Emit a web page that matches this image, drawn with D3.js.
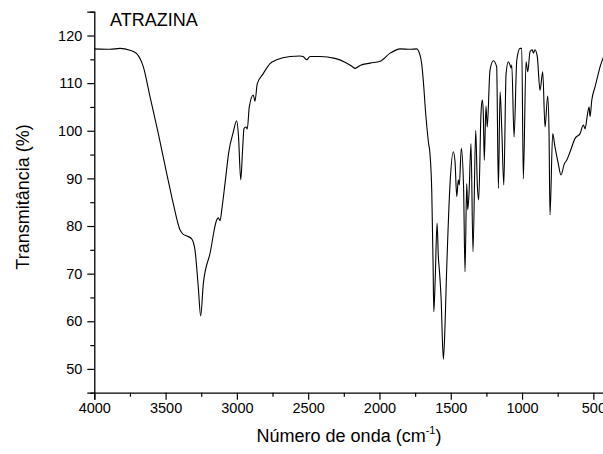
<!DOCTYPE html>
<html>
<head>
<meta charset="utf-8">
<script src="https://cdn.jsdelivr.net/npm/d3@7"></script>
<style>
  html, body { margin: 0; padding: 0; background: #fff; }
  svg { display: block; font-family: "Liberation Sans", Arial, sans-serif; }
</style>
</head>
<body>
<svg id="chart" width="603" height="454"></svg>
<script>
// Wavenumber (cm-1) and transmittance (%)
const wavenumber = [4000,3890,3820,3750,3703,3656,3609,3551,3492,3446,3399,3378,3350,3317,3294,3271,3254,3235,3188,3141,3130,3118,3106,3083,3055,3027,3001,2989,2973,2960,2950,2936,2927,2913,2885,2873,2857,2815,2768,2721,2627,2557,2536,2510,2487,2417,2312,2242,2192,2171,2136,2065,1995,1925,1855,1785,1739,1716,1704,1692,1675,1657,1645,1633,1624,1619,1610,1596,1587,1580,1568,1552,1544,1528,1505,1482,1470,1458,1447,1440,1426,1410,1400,1388,1381,1372,1358,1344,1325,1314,1304,1288,1279,1272,1265,1253,1244,1225,1201,1178,1166,1154,1142,1128,1112,1096,1084,1077,1072,1056,1037,1014,1002,991,972,960,944,928,921,909,893,874,855,839,820,811,804,785,769,746,727,703,687,663,628,593,570,558,542,530,523,511,488,465,453,434,400];
const transmittance = [117.2,117.1,117.3,116.9,116.2,113.4,107.1,99.4,91.0,84.7,79.2,78.3,77.9,77.3,75.0,67.3,61.1,68.0,74.3,81.3,81.7,81.1,83.4,89.0,95.9,99.5,102.1,99.0,89.7,96.0,100.5,100.8,100.4,105.0,107.5,106.2,109.9,112.0,114.1,114.9,115.6,115.7,115.6,114.9,115.6,115.6,115.2,114.4,113.5,113.1,113.7,114.2,114.6,116.3,117.2,117.1,117.2,115.9,114.1,110.3,103.3,97.7,94.9,87.0,72.0,62.0,68.0,80.6,73.5,70.8,65.0,52.0,56.0,71.5,88.9,95.6,93.5,86.2,89.7,88.6,96.3,88.0,70.4,88.9,83.4,86.8,97.3,74.6,100.1,88.9,85.5,103.6,106.5,104.0,93.8,105.2,100.8,112.7,114.7,113.4,87.9,108.2,100.1,88.6,112.0,114.5,113.8,113.2,113.8,98.7,114.8,117.3,117.3,89.9,114.5,112.4,116.6,117.0,116.3,117.0,115.5,108.5,112.4,100.8,107.3,100.0,82.3,99.4,96.6,93.1,90.7,93.1,93.8,95.6,98.4,99.4,101.2,100.4,103.3,105.0,103.0,106.4,109.2,112.0,113.4,115.1,116.5];

const xMajorTicks = [4000,3500,3000,2500,2000,1500,1000,500];
const xMinorTicks = [3750,3250,2750,2250,1750,1250,750];
const yMajorTicks = [50,60,70,80,90,100,110,120];
const yMinorTicks = [45,55,65,75,85,95,105,115,125];

const titleText = "ATRAZINA";
const xLabel = "Número de onda (cm";
const xLabelSup = "-1";
const yLabel = "Transmitância (%)";

const svg = d3.select("#chart");
const mLeft = 94.3, mRight = 607.6, mTop = 11.7, mBottom = 392.7;

const x = d3.scaleLinear().domain([4000, 400]).range([mLeft, mRight]);
const y = d3.scaleLinear().domain([45, 125]).range([mBottom, mTop]);

const tickFont = "14.5px";

// X axis
const gx = svg.append("g").attr("transform", `translate(0,${mBottom})`);
gx.call(d3.axisBottom(x).tickValues(xMajorTicks).tickSize(7).tickPadding(3).tickFormat(d3.format("d")));
gx.append("g").call(d3.axisBottom(x).tickValues(xMinorTicks).tickSize(4).tickFormat(""))
  .select(".domain").remove();
gx.selectAll(".domain").attr("stroke", "#000").attr("stroke-width", 1.3);
gx.selectAll(".tick line").attr("stroke", "#000").attr("stroke-width", 1.2);
gx.selectAll(".tick text").attr("fill", "#000").style("font-size", tickFont);

// Y axis
const gy = svg.append("g").attr("transform", `translate(${mLeft},0)`);
gy.call(d3.axisLeft(y).tickValues(yMajorTicks).tickSize(7).tickPadding(5));
gy.append("g").call(d3.axisLeft(y).tickValues(yMinorTicks).tickSize(4).tickFormat(""))
  .select(".domain").remove();
gy.selectAll(".domain").attr("stroke", "#000").attr("stroke-width", 1.3);
gy.selectAll(".tick line").attr("stroke", "#000").attr("stroke-width", 1.2);
gy.selectAll(".tick text").attr("fill", "#000").style("font-size", tickFont);

// Spectrum line
const data = wavenumber.map((w, i) => ({w, t: transmittance[i]}));
const line = d3.line().x(d => x(d.w)).y(d => y(d.t)).curve(d3.curveMonotoneX);
svg.append("path").datum(data)
  .attr("d", line)
  .attr("fill", "none")
  .attr("stroke", "#000")
  .attr("stroke-width", 1.1);

// Title
svg.append("text").attr("x", 110).attr("y", 26)
  .style("font-size", "18px").attr("fill", "#000").text(titleText);

// X label
const xl = svg.append("text").attr("x", 349).attr("y", 442).attr("text-anchor", "middle")
  .style("font-size", "18px").attr("fill", "#000");
xl.append("tspan").text(xLabel);
xl.append("tspan").attr("dy", -8).style("font-size", "11px").text(xLabelSup);
xl.append("tspan").attr("dy", 8).text(")");

// Y label
svg.append("text").attr("transform", "translate(29,197) rotate(-90)")
  .attr("text-anchor", "middle").style("font-size", "18px").attr("fill", "#000").text(yLabel);
</script>
</body>
</html>
